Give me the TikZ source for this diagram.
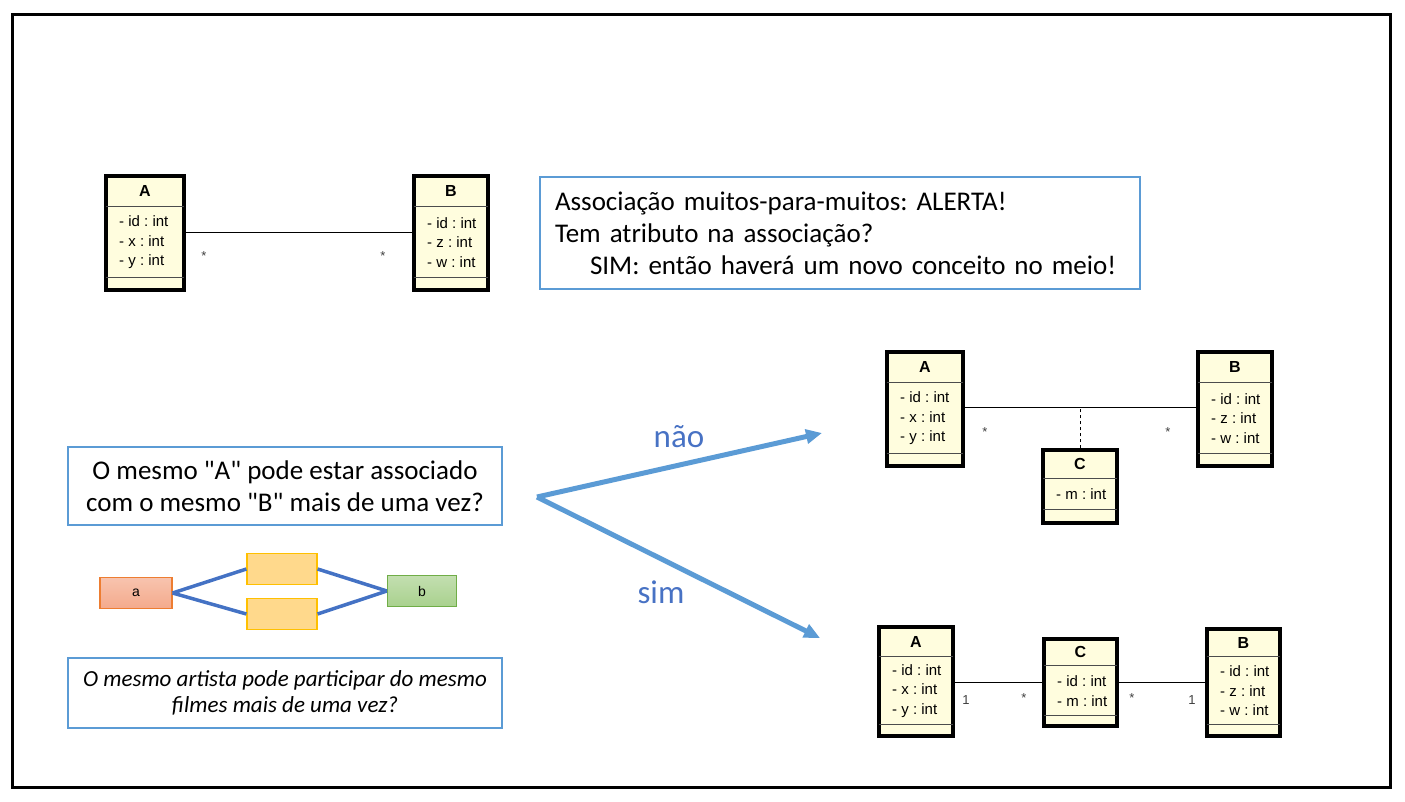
\documentclass[tikz,border=0pt]{standalone}
\usepackage{fontspec}
\setmainfont{Carlito}
\newfontfamily\umlfont{Liberation Sans}
\usetikzlibrary{calc, fit, arrows.meta}
\frenchspacing
\definecolor{umlfill}{RGB}{255,253,222}
\definecolor{boxblue}{RGB}{91,155,213}
\definecolor{linkblue}{RGB}{68,114,196}
\definecolor{txtblue}{RGB}{72,114,196}
\definecolor{afill}{RGB}{244,170,140}
\definecolor{aborder}{RGB}{237,125,49}
\definecolor{midfill}{RGB}{255,217,140}
\definecolor{midborder}{RGB}{255,192,0}
\definecolor{bfill}{RGB}{169,209,142}
\definecolor{bborder}{RGB}{112,173,71}
\tikzstyle{umlbox} = [draw,line width=3.5pt,fill=umlfill,inner sep=0pt]
\tikzstyle{umlsep} = [black!70,line width=0.8pt]
\tikzstyle{umltitle} = [font=\umlfont\fontsize{16}{18}\selectfont\bfseries,inner sep=0pt]
\tikzstyle{umlattr} = [font=\umlfont\fontsize{15}{19.5}\selectfont,align=left,anchor=west,inner sep=0pt]
\tikzstyle{mult} = [font=\umlfont\fontsize{13}{15}\selectfont,inner sep=0pt,text=black!75]
\tikzstyle{notebox} = [draw=boxblue,line width=1.8pt,inner sep=0pt,font=\fontsize{27}{32}\selectfont]
\tikzstyle{chipbox} = [draw,line width=1.2pt,minimum width=72pt,minimum height=31pt,font=\umlfont\fontsize{14}{16}\selectfont]
\tikzstyle{chiplink} = [linkblue,line width=3.5pt]
\tikzstyle{bigarrow} = [boxblue,line width=5pt,-{Triangle[length=16pt,width=14pt]}]
% name, left, top, right, bottom, title sep, bottom sep, title, attributes
\newcommand{\umlclass}[9]{%
  \coordinate (#1-nw) at (#2,#3);
  \coordinate (#1-se) at (#4,#5);
  \node[umlbox,fit=(#1-nw)(#1-se)] (#1) {};
  \draw[umlsep] (#2,#6) -- (#4,#6);
  \draw[umlsep] (#2,#7) -- (#4,#7);
  \node[umltitle] (#1-name) at ({(#2+#4)/2},{(#3+#6)/2}) {#8};
  \node[umlattr] (#1-attrs) at ({#2+13},{(#6+#7)/2+1}) {#9};
}

\begin{document}
\begin{tikzpicture}[x=1pt,y=-1pt]
	\useasboundingbox (0,0) rectangle (1405,802);
	\draw[line width=3pt] (12,15) rectangle (1390,787);

	% muitos-para-muitos
	\umlclass{topA}{106}{176}{184}{290}{206}{277}{A}{- id : int\\- x : int\\- y : int}
	\umlclass{topB}{414}{176}{488}{290}{206}{277}{B}{- id : int\\- z : int\\- w : int}
	\draw[line width=0.9pt] (topA.east |- 0,232) -- (topB.west |- 0,232);
	\node[mult] (topA-m) at (204,256) {*};
	\node[mult] (topB-m) at (383,256) {*};

	\node[notebox,minimum width=600pt,minimum height=112pt,text width=570pt,align=left] (alerta) at (840,233)
		{Associação muitos-para-muitos: ALERTA!\\Tem atributo na associação?\\\hspace*{35pt}SIM: então haverá um novo conceito no meio!};

	% pergunta
	\node[notebox,minimum width=434pt,minimum height=78pt,align=center] (pergunta) at (285,486)
		{O mesmo \textquotedbl A\textquotedbl{} pode estar associado\\com o mesmo \textquotedbl B\textquotedbl{} mais de uma vez?};
	\node[chipbox,draw=aborder,top color=afill!70,bottom color=afill] (a) at (136,593) {a};
	\node[chipbox,draw=midborder,fill=midfill,minimum width=70pt,minimum height=31pt] (m1) at (282,569) {};
	\node[chipbox,draw=midborder,fill=midfill,minimum width=70pt,minimum height=31pt] (m2) at (282,614) {};
	\node[chipbox,draw=bborder,top color=bfill!70,bottom color=bfill,minimum width=69pt] (b) at (422,591) {b};
	\draw[chiplink] (a.east) -- (m1.west);
	\draw[chiplink] (a.east) -- (m2.west);
	\draw[chiplink] (m1.east) -- (b.west);
	\draw[chiplink] (m2.east) -- (b.west);
	\node[notebox,minimum width=434pt,minimum height=70pt,align=center,font=\fontsize{23}{26}\selectfont\itshape] (artista) at (285,693)
		{O mesmo artista pode participar do mesmo\\filmes mais de uma vez?};

	% setas
	\coordinate (fork) at (537,497);
	\coordinate (naoEnd) at (822,433);
	\coordinate (simEnd) at (820,638);
	\draw[bigarrow] (fork) -- (naoEnd);
	\draw[bigarrow] (fork) -- (simEnd);
	\node[text=txtblue,font=\fontsize{33}{36}\selectfont] (nao) at (679,437) {não};
	\node[text=txtblue,font=\fontsize{33}{36}\selectfont] (sim) at (661,592) {sim};

	% nao: classe de associacao
	\umlclass{naoA}{887}{352}{963}{466}{382}{453}{A}{- id : int\\- x : int\\- y : int}
	\umlclass{naoB}{1198}{352}{1272}{466}{382}{453}{B}{- id : int\\- z : int\\- w : int}
	\umlclass{naoC}{1043}{450}{1117}{523}{478}{509}{C}{- m : int}
	\draw[line width=0.9pt] (naoA.east |- 0,407) -- (naoB.west |- 0,407);
	\draw[line width=0.9pt,dashed] (naoC.north) -- (naoC.north |- 0,407);
	\node[mult] (naoA-m) at (985,432) {*};
	\node[mult] (naoB-m) at (1168,432) {*};

	% sim: novo conceito
	\umlclass{simA}{879}{627}{953}{736}{656}{724}{A}{- id : int\\- x : int\\- y : int}
	\umlclass{simC}{1044}{639}{1117}{726}{665}{715}{C}{- id : int\\- m : int}
	\umlclass{simB}{1207}{629}{1280}{736}{656}{724}{B}{- id : int\\- z : int\\- w : int}
	\draw[line width=0.9pt] (simA.east |- 0,682) -- (simC.west |- 0,682);
	\draw[line width=0.9pt] (simC.east |- 0,682) -- (simB.west |- 0,682);
	\node[mult] (simA-m) at (966,700) {1};
	\node[mult] (simCa-m) at (1024,698) {*};
	\node[mult] (simCb-m) at (1132,698) {*};
	\node[mult] (simB-m) at (1192,700) {1};
\end{tikzpicture}
\end{document}
